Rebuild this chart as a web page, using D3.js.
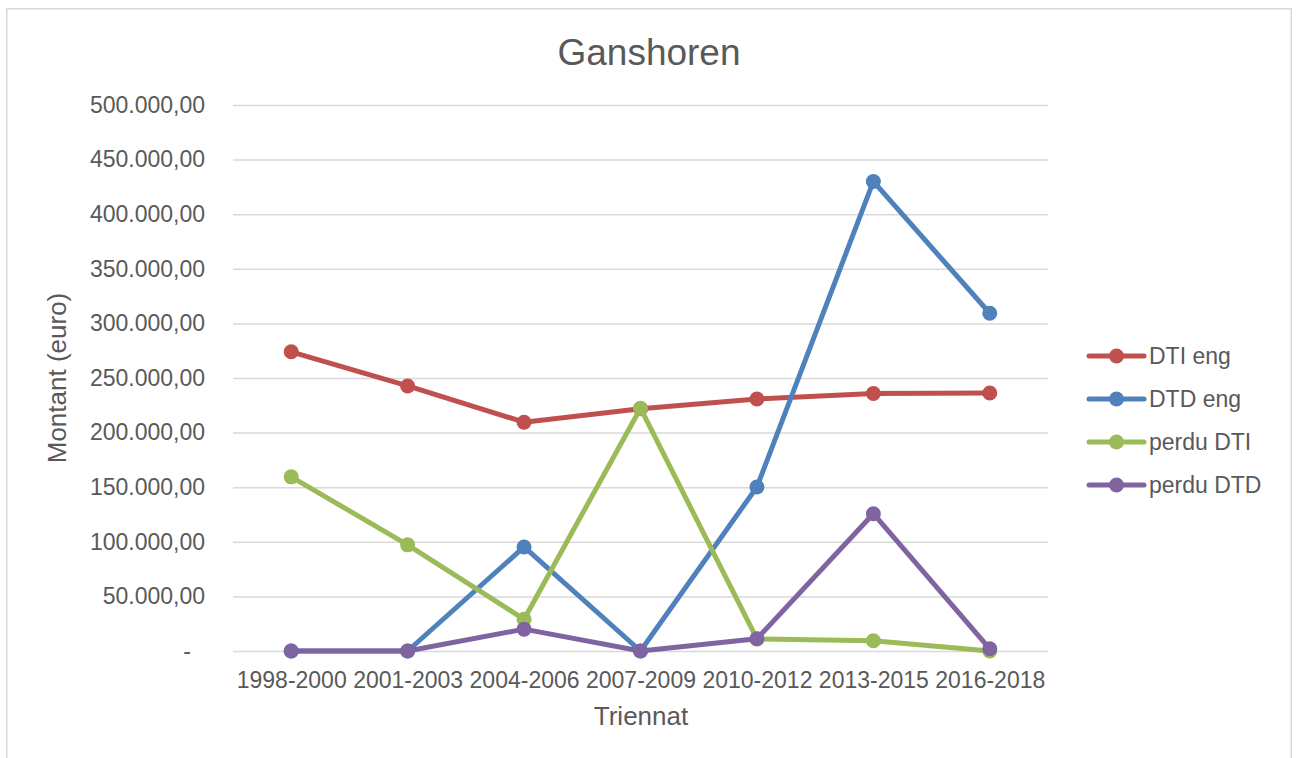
<!DOCTYPE html>
<html>
<head>
<meta charset="utf-8">
<script src="https://cdn.jsdelivr.net/npm/d3@7"></script>
<style>
  body { margin: 0; background: #fff; overflow: hidden; }
  text { font-family: "Liberation Sans", Arial, sans-serif; fill: #595959; }
</style>
</head>
<body>
<div class="graph-div"></div>
<script>
var outerWidth = 1298;
var outerHeight = 758;
var margin = {left: 233, top: 105, right: 250, bottom: 107};
var innerWidth = outerWidth - margin.left - margin.right;
var innerHeight = outerHeight - margin.top - margin.bottom;

// data
var triennats = ["1998-2000", "2001-2003", "2004-2006", "2007-2009", "2010-2012", "2013-2015", "2016-2018"];
var dtiEng    = [274000, 242700, 209500, 221800, 230800, 235800, 236200];
var dtdEng    = [0, 0, 95300, 0, 150200, 430000, 309300];
var perduDti  = [159500, 97200, 29000, 222300, 11000, 9400, 0];
var perduDtd  = [0, 0, 20000, 0, 11200, 125700, 2000];
var yTickValues = [0, 50000, 100000, 150000, 200000, 250000, 300000, 350000, 400000, 450000, 500000];

var seriesNames = ["DTI eng", "DTD eng", "perdu DTI", "perdu DTD"];
var seriesValues = [dtiEng, dtdEng, perduDti, perduDtd];
var colors = ["#C0504D", "#4F81BD", "#9BBB59", "#8064A2"];

var locale = d3.formatLocale({decimal: ",", thousands: ".", grouping: [3], currency: ["", ""]});
var fmt = locale.format(",.2f");

var svg = d3.select(".graph-div").append("svg")
    .attr("width", outerWidth)
    .attr("height", outerHeight);

// chart border (bottom edge runs off the picture)
svg.append("path")
    .attr("d", "M6.75,758V8.75H1291.25V758")
    .attr("fill", "none")
    .attr("stroke", "#d9d9d9")
    .attr("stroke-width", 1.5);

var g = svg.append("g")
    .attr("transform", "translate(" + margin.left + "," + margin.top + ")");

var xScale = d3.scalePoint()
    .domain(triennats)
    .range([0, innerWidth])
    .padding(0.5);

var yScale = d3.scaleLinear()
    .domain([0, 500000])
    .range([innerHeight, 0]);

// gridlines + y labels
var yAxis = d3.axisLeft(yScale)
    .tickValues(yTickValues)
    .tickSize(-innerWidth)
    .tickPadding(28)
    .tickFormat(function(d) { return d === 0 ? "-" : fmt(d); });

var yAxisG = g.append("g").call(yAxis);
yAxisG.select(".domain").remove();
yAxisG.selectAll("line").attr("stroke", "#d9d9d9").attr("stroke-width", 1.5);
yAxisG.selectAll("text")
    .style("font-size", "23px")
    .attr("fill", "#595959");
yAxisG.selectAll(".tick")
    .filter(function(d) { return d === 0; })
    .select("text").attr("x", -42);

// x labels
var xAxis = d3.axisBottom(xScale).tickSize(0).tickPadding(21);
var xAxisG = g.append("g")
    .attr("transform", "translate(0," + innerHeight + ")")
    .call(xAxis);
xAxisG.select(".domain").remove();
xAxisG.selectAll("text")
    .style("font-size", "23px")
    .attr("fill", "#595959");

// lines
var line = d3.line()
    .x(function(d, i) { return xScale(triennats[i]); })
    .y(function(d) { return yScale(d); });

seriesValues.forEach(function(vals, s) {
  g.append("path")
      .attr("d", line(vals))
      .attr("fill", "none")
      .attr("stroke", colors[s])
      .attr("stroke-width", 5)
      .attr("stroke-linejoin", "round");
  g.selectAll(".pt" + s)
      .data(vals)
      .enter().append("circle")
      .attr("cx", function(d, i) { return xScale(triennats[i]); })
      .attr("cy", function(d) { return yScale(d); })
      .attr("r", 7.5)
      .attr("fill", colors[s]);
});

// titles
svg.append("text")
    .attr("x", 649).attr("y", 65)
    .attr("text-anchor", "middle")
    .style("font-size", "37px")
    .text("Ganshoren");

svg.append("text")
    .attr("x", 641).attr("y", 725)
    .attr("text-anchor", "middle")
    .style("font-size", "26px")
    .text("Triennat");

svg.append("text")
    .attr("transform", "translate(66,378) rotate(-90)")
    .attr("text-anchor", "middle")
    .style("font-size", "26px")
    .text("Montant (euro)");

// legend
var legend = svg.append("g").attr("transform", "translate(1089,356)");
seriesNames.forEach(function(name, s) {
  var row = legend.append("g").attr("transform", "translate(0," + (s * 43) + ")");
  row.append("line")
      .attr("x1", 0).attr("x2", 55)
      .attr("stroke", colors[s]).attr("stroke-width", 5)
      .attr("stroke-linecap", "round");
  row.append("circle").attr("cx", 27.5).attr("r", 7.5).attr("fill", colors[s]);
  row.append("text")
      .attr("x", 60).attr("y", 8)
      .style("font-size", "23px")
      .text(name);
});
</script>
</body>
</html>
